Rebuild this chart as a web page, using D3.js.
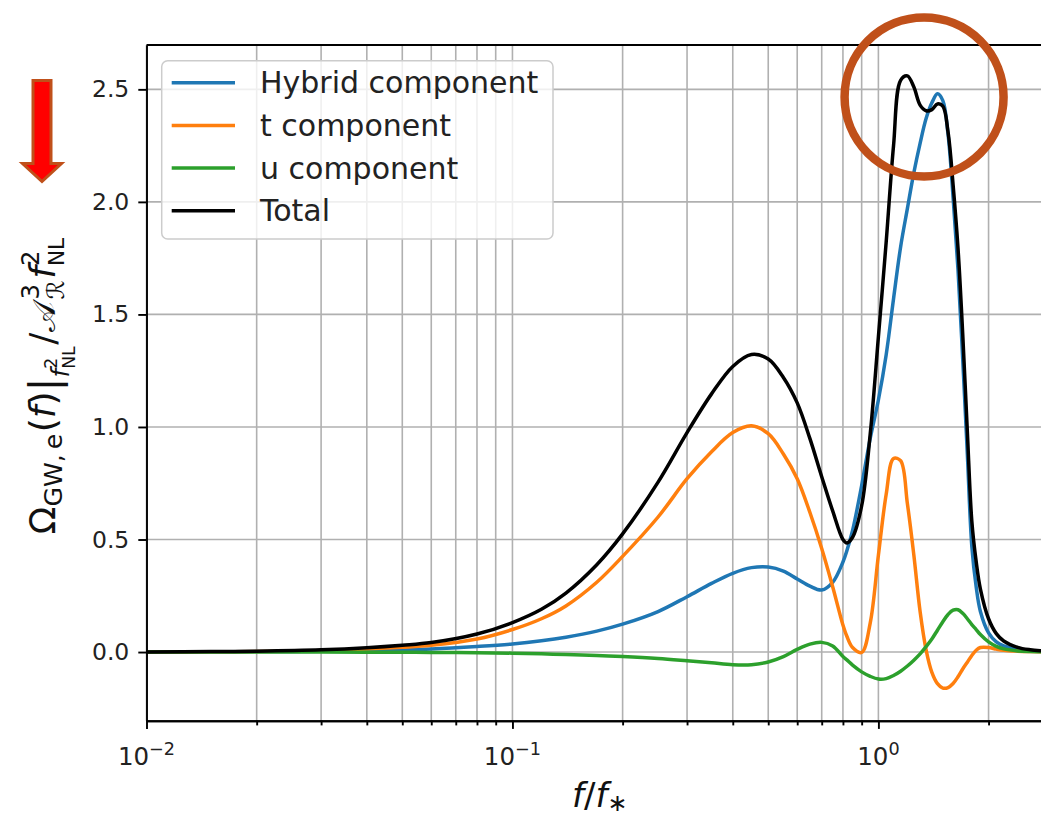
<!DOCTYPE html>
<html><head><meta charset="utf-8">
<script src="https://cdn.jsdelivr.net/npm/d3@7"></script>
<style>
html,body{margin:0;padding:0;background:#fff;}
svg{display:block;font-family:"DejaVu Sans",sans-serif;}
</style></head><body>
<svg id="chart" width="1041" height="817"></svg>
<script>
// frequency grid f/f_*
const freq = [0.01, 0.015, 0.02, 0.03, 0.04, 0.05, 0.06, 0.08, 0.1, 0.12, 0.14, 0.17, 0.2, 0.25, 0.3, 0.35, 0.4, 0.45, 0.5, 0.55, 0.6, 0.65, 0.7, 0.75, 0.8, 0.82, 0.85, 0.9, 0.95, 1.0, 1.05, 1.1, 1.15, 1.2, 1.25, 1.3, 1.35, 1.4, 1.45, 1.5, 1.55, 1.6, 1.65, 1.7, 1.75, 1.8, 1.85, 1.9, 2.0, 2.1, 2.2, 2.4, 2.6, 2.8, 3.0];
const hybrid = [0, 0.001, 0.002, 0.004, 0.007, 0.010, 0.014, 0.025, 0.036, 0.05, 0.066, 0.093, 0.124, 0.18, 0.246, 0.305, 0.35, 0.375, 0.378, 0.36, 0.325, 0.293, 0.276, 0.31, 0.40, 0.45, 0.54, 0.74, 0.95, 1.12, 1.32, 1.57, 1.80, 1.97, 2.13, 2.26, 2.37, 2.44, 2.48, 2.45, 2.30, 2.02, 1.70, 1.30, 0.88, 0.47, 0.29, 0.18, 0.085, 0.045, 0.027, 0.012, 0.006, 0.003, 0.002];
const tComp = [0, 0.001, 0.002, 0.006, 0.013, 0.021, 0.030, 0.058, 0.10, 0.148, 0.205, 0.31, 0.425, 0.60, 0.77, 0.89, 0.975, 1.005, 0.97, 0.88, 0.77, 0.62, 0.46, 0.29, 0.12, 0.07, 0.02, -0.002, 0.13, 0.43, 0.70, 0.86, 0.85, 0.66, 0.43, 0.18, 0.01, -0.09, -0.14, -0.16, -0.158, -0.14, -0.11, -0.075, -0.045, -0.015, 0.008, 0.02, 0.02, 0.013, 0.008, 0.004, 0.002, 0.001, 0];
const uComp = [0, 0, 0, 0, -0.001, -0.001, -0.002, -0.003, -0.005, -0.008, -0.011, -0.015, -0.02, -0.029, -0.039, -0.048, -0.056, -0.056, -0.044, -0.02, 0.012, 0.035, 0.043, 0.027, -0.02, -0.035, -0.058, -0.088, -0.108, -0.12, -0.118, -0.104, -0.085, -0.062, -0.036, -0.008, 0.024, 0.058, 0.097, 0.135, 0.167, 0.186, 0.188, 0.172, 0.148, 0.122, 0.10, 0.078, 0.045, 0.025, 0.014, 0.005, 0.002, 0.001, 0];
const total = [0, 0.002, 0.004, 0.010, 0.019, 0.030, 0.042, 0.080, 0.131, 0.19, 0.262, 0.388, 0.525, 0.755, 0.975, 1.147, 1.269, 1.322, 1.302, 1.22, 1.107, 0.948, 0.779, 0.627, 0.50, 0.485, 0.51, 0.65, 0.97, 1.40, 1.82, 2.25, 2.54, 2.56, 2.51, 2.43, 2.405, 2.41, 2.435, 2.425, 2.31, 2.076, 1.796, 1.412, 0.98, 0.582, 0.402, 0.28, 0.148, 0.082, 0.049, 0.021, 0.010, 0.005, 0.002];

const seriesNames = ["Hybrid component", "t component", "u component", "Total"];
const seriesColors = ["#1f77b4", "#ff7f0e", "#2ca02c", "#000000"];
const seriesValues = [hybrid, tComp, uComp, total];

const xMajorTicks = [0.01, 0.1, 1];
const xMajorExponents = ["\u22122", "\u22121", "0"];
const yTicks = [0, 0.5, 1.0, 1.5, 2.0, 2.5];

const plot = {left: 146.5, right: 1053, top: 45, bottom: 720.7};
const svg = d3.select("#chart");

const x = d3.scaleLog().domain([0.01, 3]).range([plot.left, plot.right]);
const y = d3.scaleLinear().domain([-0.305, 2.697]).range([plot.bottom, plot.top]);

const xMinorTicks = [];
[0.01, 0.1, 1].forEach(dec => { for (let k = 2; k <= 9; k++) { const v = +(k * dec).toPrecision(3); if (v <= 3) xMinorTicks.push(v); } });

const gridColor = "#b0b0b0";
const tickFont = 23.5;

// grid
const grid = svg.append("g");
grid.selectAll(".vx").data(xMajorTicks.concat(xMinorTicks)).join("line")
  .attr("x1", d => x(d)).attr("x2", d => x(d)).attr("y1", plot.top).attr("y2", plot.bottom)
  .attr("stroke", gridColor).attr("stroke-width", 1.6);
grid.selectAll(".hy").data(yTicks).join("line")
  .attr("x1", plot.left).attr("x2", plot.right).attr("y1", d => y(d)).attr("y2", d => y(d))
  .attr("stroke", gridColor).attr("stroke-width", 1.6);

// data lines
svg.append("clipPath").attr("id", "plotclip").append("rect")
  .attr("x", plot.left).attr("y", plot.top).attr("width", plot.right - plot.left).attr("height", plot.bottom - plot.top);
const line = d3.line().x(d => x(d[0])).y(d => y(d[1])).curve(d3.curveCatmullRom.alpha(0.5));
const lines = svg.append("g").attr("clip-path", "url(#plotclip)");
seriesValues.forEach((vals, i) => {
  lines.append("path").datum(freq.map((f, j) => [f, vals[j]]))
    .attr("d", line).attr("fill", "none").attr("stroke", seriesColors[i])
    .attr("stroke-width", 3.5).attr("stroke-linejoin", "round").attr("stroke-linecap", "square");
});

// axes
const axStroke = 1.9;
const xAxis = svg.append("g").attr("transform", `translate(0,${plot.bottom})`)
  .call(d3.axisBottom(x).tickValues(xMajorTicks).tickSize(8.2).tickSizeOuter(0).tickFormat(() => ""));
const xAxisMinor = svg.append("g").attr("transform", `translate(0,${plot.bottom})`)
  .call(d3.axisBottom(x).tickValues(xMinorTicks).tickSize(4.7).tickSizeOuter(0).tickFormat(() => ""));
const yAxis = svg.append("g").attr("transform", `translate(${plot.left},0)`)
  .call(d3.axisLeft(y).tickValues(yTicks).tickSize(8.2).tickSizeOuter(0).tickPadding(9).tickFormat(d3.format(".1f")));
[xAxis, xAxisMinor, yAxis].forEach(a => {
  a.selectAll("path,line").attr("stroke", "#000").attr("stroke-width", axStroke);
});
yAxis.selectAll("text").attr("font-size", tickFont).attr("fill", "#222").attr("font-family", "DejaVu Sans");
// top and right spines
svg.append("line").attr("x1", plot.left).attr("x2", plot.right).attr("y1", plot.top).attr("y2", plot.top)
  .attr("stroke", "#000").attr("stroke-width", axStroke);
svg.append("line").attr("x1", plot.right).attr("x2", plot.right).attr("y1", plot.top).attr("y2", plot.bottom)
  .attr("stroke", "#000").attr("stroke-width", axStroke);

// math-style text made of pieces (sub/superscripts, italic letters)
function mathText(parent, pieces, base) {
  let cursor = 0, prevStart = 0, prevEnd = 0;
  pieces.forEach(p => {
    const size = base * (p.s || 1);
    const start = p.stack ? prevStart : cursor + (p.gap || 0) * base;
    const t = parent.append("text").attr("x", start).attr("y", -(p.dy || 0) * base)
      .attr("font-size", size).attr("font-style", p.it ? "italic" : "normal").text(p.t);
    const w = t.node().getComputedTextLength();
    const end = start + w;
    if (p.stack) { cursor = Math.max(prevEnd, end); }
    else { prevStart = start; prevEnd = end; cursor = end; }
  });
  return cursor;
}

// x tick labels: 10^n
xMajorTicks.forEach((v, i) => {
  const g = svg.append("g").attr("fill", "#222");
  const w = mathText(g, [{t: "10"}, {t: xMajorExponents[i], s: 0.72, dy: 0.42}], 24.5);
  g.attr("transform", `translate(${x(v) - w / 2},765)`);
});

// x axis label
{
  const g = svg.append("g").attr("fill", "#111");
  const w = mathText(g, [{t: "f", it: true}, {t: "/"}, {t: "f", it: true}, {t: "\u2217", s: 0.7, dy: -0.12}], 34);
  g.attr("transform", `translate(${(plot.left + plot.right) / 2 - w / 2},807)`);
}

// y axis label
{
  const outer = svg.append("g").attr("fill", "#111").attr("transform", `translate(55,386) rotate(-90)`);
  const inner = outer.append("g");
  const w = mathText(inner, [
    {t: "\u03A9"},
    {t: "GW,\u2009e", s: 0.7, dy: -0.2},
    {t: "(", gap: 0.04}, {t: "f", it: true}, {t: ")"},
    {t: "|", s: 1.15, dy: -0.08},
    {t: "f", it: true, s: 0.68, dy: -0.38},
    {t: "2", s: 0.48, dy: -0.05},
    {t: "NL", s: 0.48, dy: -0.55, stack: true},
    {t: "/", gap: 0.04},
    {t: "\uD835\uDC9C", s: 0.88, gap: 0.02},
    {t: "3", s: 0.68, dy: 0.45, gap: 0.07},
    {t: "\u211B", s: 0.66, dy: -0.25, stack: true},
    {t: "f", it: true, gap: 0.05},
    {t: "2", s: 0.68, dy: 0.45},
    {t: "NL", s: 0.6, dy: -0.25, stack: true}
  ], 36);
  inner.attr("transform", `translate(${-w / 2},0)`);
}

// legend
{
  const lg = svg.append("g");
  lg.append("rect").attr("x", 161.7).attr("y", 60.7).attr("width", 391.3).attr("height", 178.3)
    .attr("rx", 6).attr("fill", "#fff").attr("fill-opacity", 0.8).attr("stroke", "#cccccc").attr("stroke-width", 1.5);
  seriesNames.forEach((name, i) => {
    const yy = 82.7 + i * 42.7;
    lg.append("line").attr("x1", 171.7).attr("x2", 235).attr("y1", yy).attr("y2", yy)
      .attr("stroke", seriesColors[i]).attr("stroke-width", 3.5);
    lg.append("text").attr("x", 260).attr("y", yy + 10.5).attr("font-size", 30).attr("fill", "#222").text(name);
  });
}

// highlight circle around the double peak
svg.append("circle").attr("cx", x(1.333)).attr("cy", y(2.466)).attr("r", 79.5)
  .attr("fill", "none").attr("stroke", "#c0501a").attr("stroke-width", 8.5);

// downward arrow beside the y axis
svg.append("path")
  .attr("d", "M33,80.5 L51,80.5 L51,163.5 L61.5,163.5 L42,181.5 L22.5,163.5 L33,163.5 Z")
  .attr("fill", "#ff0000").attr("stroke", "#c0501a").attr("stroke-width", 3).attr("stroke-linejoin", "miter");
</script></body></html>
